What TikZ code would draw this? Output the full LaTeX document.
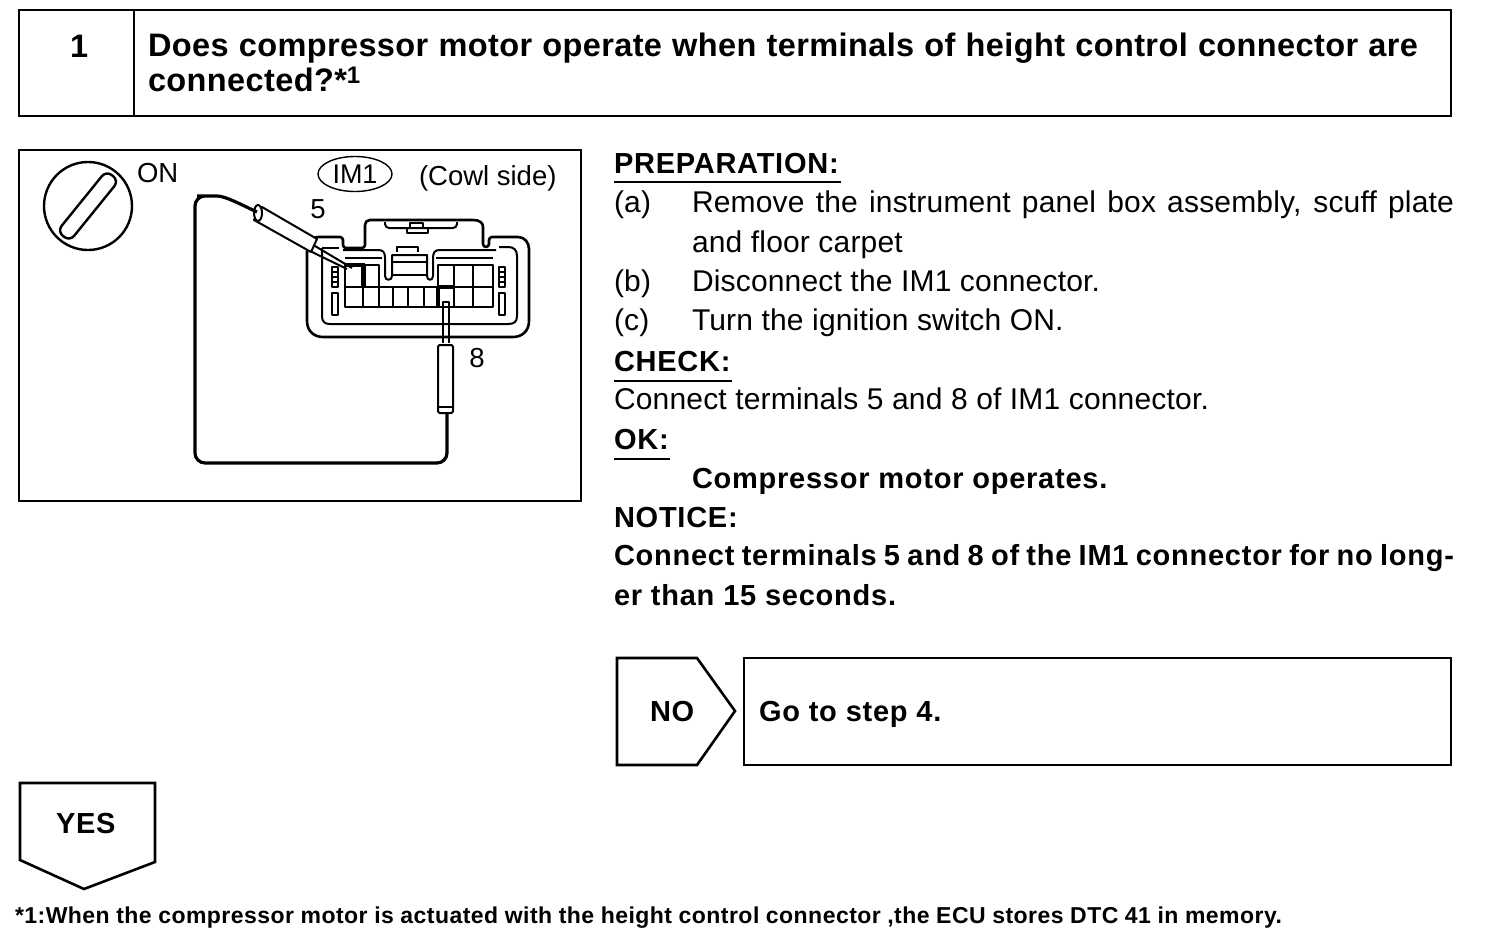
\documentclass[tikz,border=0pt]{standalone}
\usepackage{fontspec}
\setmainfont{Liberation Sans}
\usetikzlibrary{shapes.geometric}
\tikzset{
    every path/.style={line width=2pt},
    body/.style={anchor=base west, inner sep=0pt, font=\fontsize{30}{36}\selectfont\addfontfeature{LetterSpace=0.6}},
    head/.style={anchor=base west, inner sep=0pt, font=\fontsize{32.5}{38}\bfseries\selectfont\addfontfeature{LetterSpace=1.2}},
    strong/.style={anchor=base west, inner sep=0pt, font=\fontsize{29}{36}\bfseries\selectfont\addfontfeature{LetterSpace=2.6}},
    number/.style={anchor=base, inner sep=0pt, font=\fontsize{27.5}{34}\selectfont},
    frame/.style={line width=2.6pt, line join=miter},
    part/.style={line width=2pt, line join=round},
    wire/.style={line width=3.2pt, rounded corners=10pt}
}
\begin{document}
\begin{tikzpicture}[x=1pt, y=-1pt]
  \useasboundingbox (0,0) rectangle (1504,942);

  % heading
  \draw [frame] (19,10) rectangle (1451,116);
  \draw [frame] (134,10) -- (134,116);
  \node (stepno) [head] at (69,58) {1};
  \node (title1) [head] at (147,57) {\makebox[1270pt][s]{Does compressor motor operate when terminals of height control connector are}};
  \node (title2) [head] at (147,92) {connected?*\raisebox{9pt}{\fontsize{24}{24}\selectfont 1}};

  % picture box
  \draw [frame] (19,150) rectangle (581,501);
  \node (on) [number, anchor=base west] at (136,182) {ON};
  \node (im1) [ellipse, draw, line width=1.4pt, inner sep=0pt, minimum width=74pt, minimum height=35pt, font=\fontsize{27}{32}\selectfont] at (355,174) {IM1};
  \node (cowl) [number, anchor=base west] at (418,185) {(Cowl side)};
  \node (five) [number] at (318,218) {5};
  \node (eight) [number] at (477,367) {8};

  % ignition switch
  \draw [line width=2.4pt] (88,206) circle (44);
  \draw [line width=2.4pt, rotate around={51:(88,206)}, rounded corners=7pt] (49,198) rectangle (127,214);

  % connector
  \draw [part, line width=2.6pt, rounded corners=3pt]
    (307,300) -- (307,255) .. controls (307,243) and (311,237) .. (322,237)
    -- (343,237) -- (343,248) -- (365,248)
    -- (365,228) .. controls (365,222) and (367,220) .. (373,220)
    -- (470,220) .. controls (480,220) and (483,223) .. (483,230)
    -- (483,247) -- (489,247) -- (489,237) -- (515,237)
    .. controls (525,237) and (529,243) .. (529,252)
    -- (529,318) .. controls (529,331) and (522,337) .. (510,337)
    -- (326,337) .. controls (314,337) and (307,331) .. (307,318) -- cycle;
  \draw [part]
    (322,248) -- (322,316) .. controls (322,322) and (325,324) .. (330,324)
    -- (508,324) .. controls (514,324) and (517,322) .. (517,316)
    -- (517,256) .. controls (517,250) and (514,247) .. (508,247) -- (499,247);
  \draw [part] (322,248) -- (339,248);
  % keys
  \draw [part] (343,250) -- (378,250) .. controls (383,250) and (385,252) .. (385,258)
    -- (385,276) .. controls (385,281) and (392,281) .. (392,276) -- (392,255) -- (427,255)
    -- (427,276) .. controls (427,281) and (433,281) .. (433,276) -- (433,258)
    .. controls (433,252) and (435,250) .. (440,250) -- (496,250);
  \draw [part] (345,258) -- (382,258) (436,258) -- (493,258);
  \draw [part] (392,262) -- (427,262) (392,275) -- (427,275);
  \draw [part] (397,252) -- (397,247) -- (418,247) -- (418,252);
  \draw [part, rounded corners=4pt] (385,222) -- (385,228) -- (457,228) -- (457,222);
  \draw [part] (407,233) rectangle (428,228) (410,228) rectangle (423,223);
  % terminals
  \foreach \xa/\xb in {345/363,365/379,438/454,454/473,473/493}
    \draw [part] (\xa,265) rectangle (\xb,287);
  \foreach \xa/\xb in {345/363,363/379,379/393,393/408,408/424,424/438,438/454,454/473,473/493}
    \draw [part] (\xa,287) rectangle (\xb,307);
  \draw [line width=3.4pt] (345,265) -- (363,265) -- (363,287) (438,287) -- (438,307) (438,287) -- (454,287);
  \foreach \xa in {332,499} {
    \draw [part] (\xa,267) rectangle +(6,20);
    \draw [part] (\xa,272) -- +(6,0) (\xa,277) -- +(6,0) (\xa,282) -- +(6,0);
    \draw [part] (\xa,293) rectangle +(6,22);
  }

  % probes and wire
  \coordinate (tail5) at (257,212);
  \coordinate (tail8) at (447,413);
  \coordinate (tip5) at (352,268);
  \coordinate (tip8) at (446,302);
  \draw [part, fill=white] (254,220) -- (262,207) -- (317,239) -- (311,252) -- cycle;
  \draw [part, fill=white] (258,213) ellipse (4 and 8);
  \draw [part] (315,246) -- (tip5) (312,252) -- (347,269);
  \draw [part, rounded corners=2pt] (438,345) rectangle (453,413);
  \draw [part] (438,407) -- (453,407);
  \draw [part] (443,343) -- (443,302) -- (449,302) -- (449,343);
  \draw [wire] (tail5) .. controls (240,204) and (225,196) .. (207,196)
    -- (195,196) -- (195,463) -- (447,463) -- (tail8);

  % text column
  \node (prep) [strong] at (613,173) {PREPARATION:};
  \draw [line width=1.4pt] (614,182) -- (841,182);
  \node (ta) [body] at (613,212) {(a)};
  \node (ta1) [body] at (691,212) {\makebox[762pt][s]{Remove the instrument panel box assembly, scuff plate}};
  \node (ta2) [body] at (691,252) {and floor carpet};
  \node (tb) [body] at (613,291) {(b)};
  \node (tb1) [body] at (691,291) {Disconnect the IM1 connector.};
  \node (tc) [body] at (613,330) {(c)};
  \node (tc1) [body] at (691,330) {Turn the ignition switch ON.};
  \node (check) [strong] at (613,371) {CHECK:};
  \draw [line width=1.4pt] (614,381) -- (732,381);
  \node (conn) [body] at (613,409) {Connect terminals 5 and 8 of IM1 connector.};
  \node (ok) [strong] at (613,449) {OK:};
  \draw [line width=1.4pt] (614,459) -- (670,459);
  \node (oper) [strong] at (691,488) {Compressor motor operates.};
  \node (notice) [strong] at (613,527) {NOTICE:};
  \node (not1) [strong] at (613,565) {\makebox[840pt][s]{Connect terminals 5 and 8 of the IM1 connector for no long-}};
  \node (not2) [strong] at (613,605) {er than 15 seconds.};

  % answers
  \draw [frame] (617,658) -- (697,658) -- (735,711) -- (697,765) -- (617,765) -- cycle;
  \node (no) [strong] at (649,721) {NO};
  \draw [frame] (744,658) rectangle (1451,765);
  \node (goto) [strong] at (758,721) {Go to step 4.};
  \draw [frame] (20,783) -- (155,783) -- (155,862) -- (84,889) -- (20,860) -- cycle;
  \node (yes) [strong] at (55,833) {YES};

  % footnote
  \node (foot) [anchor=base west, inner sep=0pt, font=\fontsize{23}{28}\bfseries\selectfont\addfontfeature{LetterSpace=2}] at (14,923)
    {\makebox[1267pt][s]{*1:When the compressor motor is actuated with the height control connector ,the ECU stores DTC 41 in memory.}};
\end{tikzpicture}
\end{document}
